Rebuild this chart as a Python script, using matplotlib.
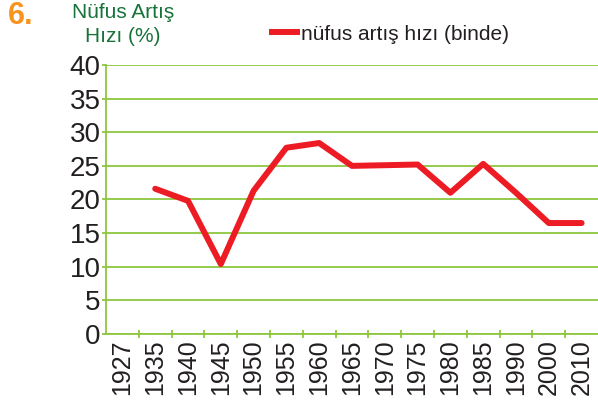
import matplotlib
matplotlib.use("Agg")
import matplotlib.pyplot as plt
from matplotlib.lines import Line2D

years = ["1927", "1935", "1940", "1945", "1950", "1955", "1960", "1965",
         "1970", "1975", "1980", "1985", "1990", "2000", "2010"]
# 1927 has no value in the chart
rate_years = ["1935", "1940", "1945", "1950", "1955", "1960", "1965",
              "1970", "1975", "1980", "1985", "1990", "2000", "2010"]
rate = [21.6, 19.8, 10.4, 21.3, 27.7, 28.4, 25.0,
        25.1, 25.2, 21.0, 25.3, 21.0, 16.5, 16.5]
yticks = [0, 5, 10, 15, 20, 25, 30, 35, 40]

green = "#8dc63f"
red = "#ed1c24"
dark = "#231f20"

plt.rcParams['font.family'] = ['Liberation Sans', 'DejaVu Sans']

fig = plt.figure(figsize=(5.98, 4.04), dpi=100)
ax = fig.add_axes([106 / 598, 70 / 404, 1 - 106 / 598, 269 / 404])

xpos = [years.index(y) for y in rate_years]
ax.plot(xpos, rate, color=red, lw=4.3, solid_joinstyle='round',
        solid_capstyle='round', zorder=3)

for v in yticks:
    ax.axhline(v, color=green, lw=1.3, zorder=1)

ax.set_xlim(-0.5, 14.5)
ax.set_ylim(0, 40)
ax.set_yticks(yticks)
ax.set_yticklabels([str(v) for v in yticks], fontsize=20, color=dark)
ax.set_xticks(range(len(years)))
ax.set_xticklabels(years, rotation=90, fontsize=18, color=dark)
ax.tick_params(axis='x', length=0, pad=4)
ax.set_xticks([i + 0.5 for i in range(len(years) - 1)], minor=True)
ax.tick_params(axis='x', which='minor', direction='inout', length=6,
               color=green, width=1.3)
ax.tick_params(axis='y', length=3, color=green, width=1.3, pad=1)

for s in ['top', 'right']:
    ax.spines[s].set_visible(False)
for s in ['left', 'bottom']:
    ax.spines[s].set_color(green)
    ax.spines[s].set_linewidth(1.3)

fig.text(8 / 598, 1 - 1 / 404, "6.", fontsize=22, fontweight='bold',
         color="#f7941d", ha='left', va='top')
fig.text(123 / 598, 1 - 3 / 404, "Nüfus Artış\nHızı (%)", fontsize=15,
         color="#17733a", ha='center', va='top', linespacing=1.35)

leg = fig.legend(handles=[Line2D([0], [0], color=red, lw=4.3)],
                 labels=["nüfus artış hızı (binde)"],
                 loc='center left', bbox_to_anchor=(272 / 598, 1 - 34 / 404),
                 frameon=False, fontsize=15, handlelength=1.2,
                 handletextpad=0.2, borderaxespad=0, borderpad=0)
for t in leg.get_texts():
    t.set_color(dark)

fig.savefig("out.png", dpi=100)
